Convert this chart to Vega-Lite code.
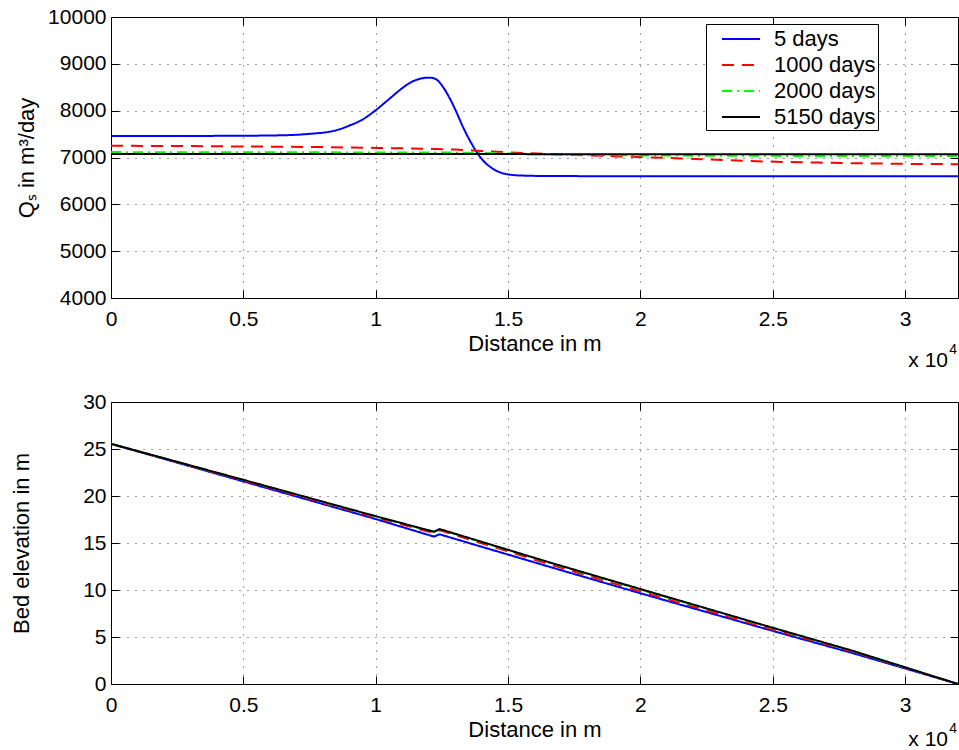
{
  "$schema": "https://vega.github.io/schema/vega-lite/v6.json",
  "background": "white",
  "padding": {"left": 10, "top": 5, "right": 0, "bottom": 0},
  "autosize": {"type": "pad"},
  "config": {
    "font": "Liberation Sans",
    "view": {"stroke": "#000", "strokeWidth": 1},
    "axis": {
      "labelFont": "Liberation Sans", "labelFontSize": 21, "labelColor": "#000",
      "titleFont": "Liberation Sans", "titleFontSize": 22, "titleFontWeight": "normal", "titleColor": "#000",
      "tickColor": "#000", "tickSize": -8, "tickWidth": 1, "domain": false,
      "gridColor": "#000", "gridDash": [1, 7], "gridOpacity": 0.75, "gridWidth": 1,
      "labelFlush": false, "labelOverlap": false
    },
    "axisX": {"labelPadding": 18, "titlePadding": 4},
    "axisY": {"labelPadding": 13}
  },
  "datasets": {
    "qs": [
      {"series": "5 days", "x": 0, "q": 7460},
      {"series": "5 days", "x": 2000, "q": 7460},
      {"series": "5 days", "x": 4000, "q": 7462},
      {"series": "5 days", "x": 6000, "q": 7470},
      {"series": "5 days", "x": 7000, "q": 7485},
      {"series": "5 days", "x": 7500, "q": 7505},
      {"series": "5 days", "x": 8000, "q": 7530},
      {"series": "5 days", "x": 8500, "q": 7580},
      {"series": "5 days", "x": 9000, "q": 7680},
      {"series": "5 days", "x": 9500, "q": 7810},
      {"series": "5 days", "x": 10000, "q": 8010},
      {"series": "5 days", "x": 10500, "q": 8245},
      {"series": "5 days", "x": 11000, "q": 8480},
      {"series": "5 days", "x": 11250, "q": 8580},
      {"series": "5 days", "x": 11500, "q": 8650},
      {"series": "5 days", "x": 11750, "q": 8690},
      {"series": "5 days", "x": 12000, "q": 8705},
      {"series": "5 days", "x": 12150, "q": 8700},
      {"series": "5 days", "x": 12300, "q": 8665},
      {"series": "5 days", "x": 12550, "q": 8500},
      {"series": "5 days", "x": 12800, "q": 8260},
      {"series": "5 days", "x": 13050, "q": 7970},
      {"series": "5 days", "x": 13300, "q": 7650},
      {"series": "5 days", "x": 13550, "q": 7370},
      {"series": "5 days", "x": 13800, "q": 7130},
      {"series": "5 days", "x": 14050, "q": 6940},
      {"series": "5 days", "x": 14400, "q": 6770},
      {"series": "5 days", "x": 14900, "q": 6650},
      {"series": "5 days", "x": 15500, "q": 6615},
      {"series": "5 days", "x": 16500, "q": 6605},
      {"series": "5 days", "x": 20000, "q": 6600},
      {"series": "5 days", "x": 32000, "q": 6600},
      {"series": "1000 days", "x": 0, "q": 7250},
      {"series": "1000 days", "x": 2500, "q": 7245},
      {"series": "1000 days", "x": 5000, "q": 7235},
      {"series": "1000 days", "x": 7500, "q": 7225},
      {"series": "1000 days", "x": 10000, "q": 7205},
      {"series": "1000 days", "x": 12000, "q": 7185},
      {"series": "1000 days", "x": 13000, "q": 7170},
      {"series": "1000 days", "x": 14000, "q": 7140},
      {"series": "1000 days", "x": 15000, "q": 7110},
      {"series": "1000 days", "x": 16500, "q": 7075},
      {"series": "1000 days", "x": 18500, "q": 7036},
      {"series": "1000 days", "x": 20000, "q": 7010},
      {"series": "1000 days", "x": 22250, "q": 6965},
      {"series": "1000 days", "x": 24750, "q": 6915},
      {"series": "1000 days", "x": 27250, "q": 6886},
      {"series": "1000 days", "x": 29750, "q": 6866},
      {"series": "1000 days", "x": 32000, "q": 6857},
      {"series": "2000 days", "x": 0, "q": 7115},
      {"series": "2000 days", "x": 5000, "q": 7112},
      {"series": "2000 days", "x": 10000, "q": 7108},
      {"series": "2000 days", "x": 13000, "q": 7104},
      {"series": "2000 days", "x": 15000, "q": 7085},
      {"series": "2000 days", "x": 17000, "q": 7065},
      {"series": "2000 days", "x": 20000, "q": 7045},
      {"series": "2000 days", "x": 25000, "q": 7035},
      {"series": "2000 days", "x": 32000, "q": 7030},
      {"series": "5150 days", "x": 0, "q": 7075},
      {"series": "5150 days", "x": 16000, "q": 7072},
      {"series": "5150 days", "x": 32000, "q": 7068}
    ],
    "bed": [
      {"series": "5 days", "x": 0, "z": 25.55},
      {"series": "5 days", "x": 5000, "z": 21.55},
      {"series": "5 days", "x": 10000, "z": 17.55},
      {"series": "5 days", "x": 12200, "z": 15.68},
      {"series": "5 days", "x": 12420, "z": 15.92},
      {"series": "5 days", "x": 14000, "z": 14.6},
      {"series": "5 days", "x": 16585, "z": 12.45},
      {"series": "5 days", "x": 20000, "z": 9.65},
      {"series": "5 days", "x": 25000, "z": 5.65},
      {"series": "5 days", "x": 28000, "z": 3.3},
      {"series": "5 days", "x": 32000, "z": 0},
      {"series": "1000 days", "x": 0, "z": 25.55},
      {"series": "1000 days", "x": 5000, "z": 21.65},
      {"series": "1000 days", "x": 10000, "z": 17.72},
      {"series": "1000 days", "x": 12200, "z": 16.05},
      {"series": "1000 days", "x": 12420, "z": 16.35},
      {"series": "1000 days", "x": 16585, "z": 12.72},
      {"series": "1000 days", "x": 20000, "z": 9.85},
      {"series": "1000 days", "x": 25000, "z": 5.8},
      {"series": "1000 days", "x": 28000, "z": 3.45},
      {"series": "1000 days", "x": 32000, "z": 0},
      {"series": "2000 days", "x": 0, "z": 25.55},
      {"series": "2000 days", "x": 5000, "z": 21.7},
      {"series": "2000 days", "x": 10000, "z": 17.82},
      {"series": "2000 days", "x": 12200, "z": 16.17},
      {"series": "2000 days", "x": 12420, "z": 16.45},
      {"series": "2000 days", "x": 16585, "z": 12.88},
      {"series": "2000 days", "x": 20000, "z": 10.05},
      {"series": "2000 days", "x": 25000, "z": 5.94},
      {"series": "2000 days", "x": 28000, "z": 3.52},
      {"series": "2000 days", "x": 32000, "z": 0},
      {"series": "5150 days", "x": 0, "z": 25.55},
      {"series": "5150 days", "x": 5000, "z": 21.72},
      {"series": "5150 days", "x": 10000, "z": 17.85},
      {"series": "5150 days", "x": 12200, "z": 16.2},
      {"series": "5150 days", "x": 12420, "z": 16.48},
      {"series": "5150 days", "x": 16585, "z": 12.92},
      {"series": "5150 days", "x": 20000, "z": 10.1},
      {"series": "5150 days", "x": 25000, "z": 5.98},
      {"series": "5150 days", "x": 28000, "z": 3.55},
      {"series": "5150 days", "x": 32000, "z": 0}
    ]
  },
  "bounds": "flush",
  "spacing": 104,
  "resolve": {"scale": {"x": "independent", "y": "independent", "color": "independent", "strokeDash": "independent"}},
  "vconcat": [
    {
      "width": 847,
      "height": 281,
      "layer": [
        {
          "data": {"name": "qs"},
          "mark": {"type": "line", "strokeWidth": 2, "clip": true, "interpolate": "monotone"},
          "encoding": {
            "x": {"field": "x", "type": "quantitative",
              "scale": {"domain": [0, 32000], "nice": false, "zero": false},
              "axis": {"orient": "bottom", "values": [0, 5000, 10000, 15000, 20000, 25000, 30000], "labelExpr": "datum.value / 10000", "title": "Distance in m", "grid": true, "titlePadding": 4}},
            "y": {"field": "q", "type": "quantitative",
              "scale": {"domain": [4000, 10000], "nice": false, "zero": false},
              "axis": {"orient": "left", "values": [4000, 5000, 6000, 7000, 8000, 9000, 10000], "format": "d", "title": "Qₛ in m³/day", "grid": true, "titlePadding": 9}},
            "color": {"field": "series", "type": "nominal",
              "scale": {"domain": ["5 days", "1000 days", "2000 days", "5150 days"], "range": ["#0000ff", "#ff0000", "#00ff00", "#000000"]},
              "legend": {"orient": "none", "legendX": 595, "legendY": 7, "title": null, "symbolType": "M0.08,0H3.25", "symbolSize": 576, "symbolStrokeWidth": 2, "labelFont": "Liberation Sans", "labelFontSize": 22, "labelColor": "#000", "labelOffset": 40, "labelExpr": "datum.label + '\u00a0\u00a0\u00a0'", "strokeColor": "#000", "fillColor": "#fff", "padding": 2, "rowPadding": 2, "cornerRadius": 0}},
            "strokeDash": {"field": "series", "type": "nominal",
              "scale": {"domain": ["5 days", "1000 days", "2000 days", "5150 days"], "range": [[1, 0], [12, 8], [10, 5, 2, 5], [1, 0]]},
              "legend": {"orient": "none", "legendX": 595, "legendY": 7, "title": null, "symbolType": "M0.08,0H3.25", "symbolSize": 576, "symbolStrokeWidth": 2, "labelFont": "Liberation Sans", "labelFontSize": 22, "labelColor": "#000", "labelOffset": 40, "labelExpr": "datum.label + '\u00a0\u00a0\u00a0'", "strokeColor": "#000", "fillColor": "#fff", "padding": 2, "rowPadding": 2, "cornerRadius": 0}}
          }
        },
        {
          "data": {"values": [{"label": "x 10"}]},
          "mark": {"type": "text", "align": "right", "baseline": "top", "dy": 52, "dx": -10, "fontSize": 21, "font": "Liberation Sans", "color": "#000", "clip": false},
          "encoding": {
            "text": {"field": "label"},
            "x": {"datum": 32000, "type": "quantitative", "axis": {"orient": "top", "labels": false, "grid": false, "title": null, "values": [0, 5000, 10000, 15000, 20000, 25000, 30000]}},
            "y": {"datum": 4000, "type": "quantitative", "axis": {"orient": "right", "labels": false, "grid": false, "title": null, "values": [4000, 5000, 6000, 7000, 8000, 9000, 10000]}}
          }
        },
        {
          "data": {"values": [{"label": "4"}]},
          "mark": {"type": "text", "align": "right", "baseline": "top", "dy": 45, "dx": -1, "fontSize": 14, "font": "Liberation Sans", "color": "#000", "clip": false},
          "encoding": {
            "text": {"field": "label"},
            "x": {"datum": 32000, "type": "quantitative", "axis": null},
            "y": {"datum": 4000, "type": "quantitative", "axis": null}
          }
        }
      ],
      "resolve": {"axis": {"x": "independent", "y": "independent"}}
    },
    {
      "width": 847,
      "height": 282,
      "layer": [
        {
          "data": {"name": "bed"},
          "mark": {"type": "line", "strokeWidth": 2, "clip": true},
          "encoding": {
            "x": {"field": "x", "type": "quantitative",
              "scale": {"domain": [0, 32000], "nice": false, "zero": false},
              "axis": {"orient": "bottom", "values": [0, 5000, 10000, 15000, 20000, 25000, 30000], "labelExpr": "datum.value / 10000", "title": "Distance in m", "grid": true, "titlePadding": 4}},
            "y": {"field": "z", "type": "quantitative",
              "scale": {"domain": [0, 30], "nice": false},
              "axis": {"orient": "left", "values": [0, 5, 10, 15, 20, 25, 30], "title": "Bed elevation in m", "grid": true, "titlePadding": 49}},
            "color": {"field": "series", "type": "nominal",
              "scale": {"domain": ["5 days", "1000 days", "2000 days", "5150 days"], "range": ["#0000ff", "#ff0000", "#00ff00", "#000000"]},
              "legend": null},
            "strokeDash": {"field": "series", "type": "nominal",
              "scale": {"domain": ["5 days", "1000 days", "2000 days", "5150 days"], "range": [[1, 0], [12, 8], [10, 5, 2, 5], [1, 0]]},
              "legend": null}
          }
        },
        {
          "data": {"values": [{"label": "x 10"}]},
          "mark": {"type": "text", "align": "right", "baseline": "top", "dy": 45, "dx": -10, "fontSize": 21, "font": "Liberation Sans", "color": "#000", "clip": false},
          "encoding": {
            "text": {"field": "label"},
            "x": {"datum": 32000, "type": "quantitative", "axis": {"orient": "top", "labels": false, "grid": false, "title": null, "values": [0, 5000, 10000, 15000, 20000, 25000, 30000]}},
            "y": {"datum": 0, "type": "quantitative", "axis": {"orient": "right", "labels": false, "grid": false, "title": null, "values": [0, 5, 10, 15, 20, 25, 30]}}
          }
        },
        {
          "data": {"values": [{"label": "4"}]},
          "mark": {"type": "text", "align": "right", "baseline": "top", "dy": 38, "dx": -1, "fontSize": 14, "font": "Liberation Sans", "color": "#000", "clip": false},
          "encoding": {
            "text": {"field": "label"},
            "x": {"datum": 32000, "type": "quantitative", "axis": null},
            "y": {"datum": 0, "type": "quantitative", "axis": null}
          }
        }
      ],
      "resolve": {"axis": {"x": "independent", "y": "independent"}}
    }
  ]
}
